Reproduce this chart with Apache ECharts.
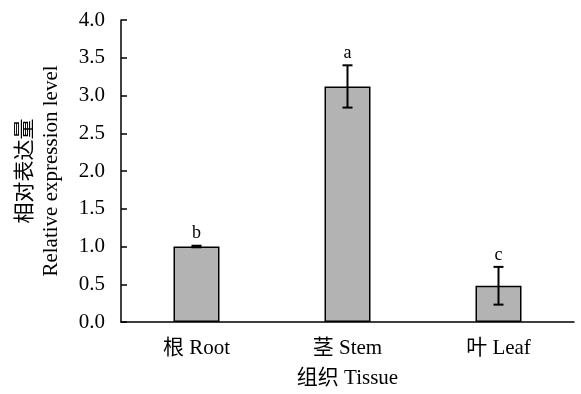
<!DOCTYPE html>
<html>
<head>
<meta charset="utf-8">
<script src="https://cdn.jsdelivr.net/npm/echarts@6/dist/echarts.min.js"></script>
<style>html,body{margin:0;padding:0;background:#fff;}#c{width:581px;height:394px;}</style>
</head>
<body>
<div id="c"></div>
<script>
var categories = ['根 Root', '茎 Stem', '叶 Leaf'];
var values = [1.0, 3.12, 0.48];
var errors = [0.01, 0.28, 0.25];
var letters = ['b', 'a', 'c'];
var yTicks = [0, 0.5, 1.0, 1.5, 2.0, 2.5, 3.0, 3.5, 4.0];

var FONT = '"Liberation Serif", "Times New Roman", "Noto Sans CJK SC", serif';
var chart = echarts.init(document.getElementById('c'));
var errData = values.map(function (v, i) { return [i, v - errors[i], v + errors[i], letters[i]]; });

chart.setOption({
  animation: false,
  backgroundColor: '#fff',
  grid: { left: 121, right: 7, top: 20, bottom: 72, outerBoundsMode: 'none', containLabel: false },
  xAxis: {
    type: 'category',
    data: categories,
    name: '组织 Tissue',
    nameLocation: 'middle',
    nameGap: 46,
    nameTextStyle: { fontFamily: FONT, fontSize: 21, color: '#000' },
    axisLine: { lineStyle: { color: '#000', width: 1.5 } },
    axisTick: { inside: true, length: 5, lineStyle: { color: '#000', width: 1.5 } },
    axisLabel: { fontFamily: FONT, fontSize: 21, color: '#000', margin: 16 }
  },
  yAxis: {
    type: 'value',
    min: 0, max: 4, interval: 0.5,
    name: '相对表达量\nRelative expression level',
    nameLocation: 'middle',
    nameGap: 57,
    nameRotate: 90,
    nameTextStyle: { fontFamily: FONT, fontSize: 21, color: '#000', lineHeight: 26 },
    axisLine: { show: true, lineStyle: { color: '#000', width: 1.5 } },
    axisTick: { show: true, inside: true, length: 6, lineStyle: { color: '#000', width: 1.5 } },
    splitLine: { show: false },
    axisLabel: {
      fontFamily: FONT, fontSize: 21, color: '#000', margin: 16,
      formatter: function (v) { return yTicks.indexOf(v) >= 0 ? v.toFixed(1) : ''; }
    }
  },
  series: [
    {
      type: 'bar',
      data: values,
      barWidth: 46,
      itemStyle: { color: '#b3b3b3', borderColor: '#000', borderWidth: 1.5 }
    },
    {
      type: 'custom',
      data: errData,
      z: 5,
      renderItem: function (params, api) {
        var x = api.value(0);
        var lo = api.coord([x, api.value(1)]);
        var hi = api.coord([x, api.value(2)]);
        var cap = 5;
        var st = { stroke: '#000', lineWidth: 2 };
        return {
          type: 'group',
          children: [
            { type: 'line', shape: { x1: hi[0], y1: hi[1], x2: lo[0], y2: lo[1] }, style: st },
            { type: 'line', shape: { x1: hi[0] - cap, y1: hi[1], x2: hi[0] + cap, y2: hi[1] }, style: st },
            { type: 'line', shape: { x1: lo[0] - cap, y1: lo[1], x2: lo[0] + cap, y2: lo[1] }, style: st },
            { type: 'text', x: hi[0], y: hi[1] - 3,
              style: { text: api.value(3), fontFamily: FONT, fontSize: 18, fill: '#000', align: 'center', verticalAlign: 'bottom' } }
          ]
        };
      }
    }
  ]
});
</script>
</body>
</html>
